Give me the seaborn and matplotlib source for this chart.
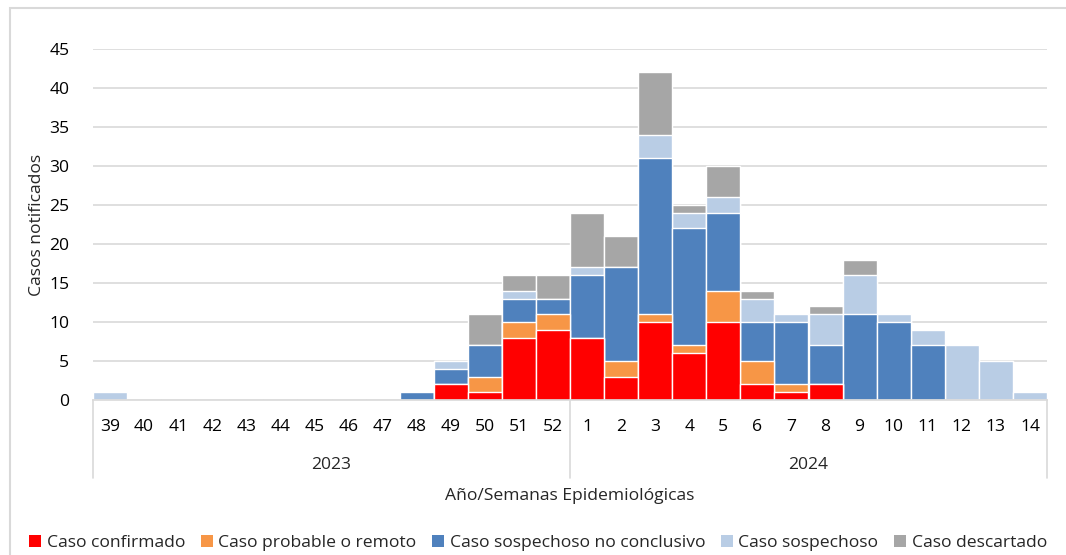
import matplotlib
matplotlib.use("Agg")
import matplotlib.pyplot as plt
from matplotlib.patches import Rectangle, Patch
import seaborn as sns
import numpy as np
import pandas as pd

weeks = ["39", "40", "41", "42", "43", "44", "45", "46", "47", "48", "49", "50", "51", "52",
         "1", "2", "3", "4", "5", "6", "7", "8", "9", "10", "11", "12", "13", "14"]
years = ["2023", "2024"]
confirmado = [0, 0, 0, 0, 0, 0, 0, 0, 0, 0, 2, 1, 8, 9,
              8, 3, 10, 6, 10, 2, 1, 2, 0, 0, 0, 0, 0, 0]
probable = [0, 0, 0, 0, 0, 0, 0, 0, 0, 0, 0, 2, 2, 2,
            0, 2, 1, 1, 4, 3, 1, 0, 0, 0, 0, 0, 0, 0]
sosp_no_concl = [0, 0, 0, 0, 0, 0, 0, 0, 0, 1, 2, 4, 3, 2,
                 8, 12, 20, 15, 10, 5, 8, 5, 11, 10, 7, 0, 0, 0]
sospechoso = [1, 0, 0, 0, 0, 0, 0, 0, 0, 0, 1, 0, 1, 0,
              1, 0, 3, 2, 2, 3, 1, 4, 5, 1, 2, 7, 5, 1]
descartado = [0, 0, 0, 0, 0, 0, 0, 0, 0, 0, 0, 4, 2, 3,
              7, 4, 8, 1, 4, 1, 0, 1, 2, 0, 0, 0, 0, 0]
series_names = ["Caso confirmado", "Caso probable o remoto", "Caso sospechoso no conclusivo",
                "Caso sospechoso", "Caso descartado"]
colors = ["#FF0000", "#F79646", "#4F81BD", "#B9CDE5", "#A6A6A6"]

sns.set_style("white")
plt.rcParams["font.family"] = ["Open Sans", "DejaVu Sans"]
FS = 12.6

W, H = 1066, 555
fig = plt.figure(figsize=(W / 100, H / 100), dpi=100)
ax = fig.add_axes([93 / W, 1 - 400 / H, (1047 - 93) / W, (400 - 49) / H])

df = pd.DataFrame({"week": weeks})
layers = [confirmado, probable, sosp_no_concl, sospechoso, descartado]
cum = np.cumsum(np.array(layers), axis=0)
for i in range(len(layers) - 1, -1, -1):
    df["v"] = cum[i]
    sns.barplot(data=df, x="week", y="v", order=weeks, color=colors[i], saturation=1,
                width=1.0, edgecolor="white", linewidth=1.0, ax=ax, errorbar=None)

ax.set_ylim(0, 45)
ax.set_xlim(-0.5, len(weeks) - 0.5)
ax.set_yticks(range(0, 46, 5))
ax.grid(axis="y", color="#D9D9D9", linewidth=1.2)
ax.set_axisbelow(True)
for s in ["top", "right", "left"]:
    ax.spines[s].set_visible(False)
ax.spines["bottom"].set_color("#D9D9D9")
ax.spines["bottom"].set_linewidth(1.2)
ax.tick_params(axis="both", length=0, labelsize=FS, colors="#000000")
ax.tick_params(axis="y", pad=17)
ax.tick_params(axis="x", pad=14)
ax.set_xlabel("")
ax.set_ylabel("Casos notificados", fontsize=FS, labelpad=3)

# multi-level axis separators
tr = ax.get_xaxis_transform()
depth = -(478 - 400) / (400 - 49)
n23 = 14
for xv in [-0.5, n23 - 0.5, len(weeks) - 0.5]:
    ax.plot([xv, xv], [0, depth], transform=tr, color="#D9D9D9", lw=1.2, clip_on=False)
ydepth_year = -(465 - 400) / (400 - 49)
ax.text((n23 - 1) / 2, ydepth_year, years[0], transform=tr, ha="center", va="center", fontsize=FS)
ax.text(n23 + (len(weeks) - n23 - 1) / 2, ydepth_year, years[1], transform=tr,
        ha="center", va="center", fontsize=FS)

fig.text(((93 + 1047) / 2) / W, 1 - 496 / H, "Año/Semanas Epidemiológicas",
         ha="center", va="center", fontsize=FS)

handles = [Patch(facecolor=c, edgecolor="none") for c in colors]
fig.legend(handles, series_names, loc="center", bbox_to_anchor=(538 / W, 1 - 543 / H),
           ncol=5, frameon=False, fontsize=FS, handlelength=0.7, handleheight=0.7,
           handletextpad=0.3, columnspacing=0.9)

fig.patches.append(Rectangle((10 / W, -0.05), 1.2, 1.05 - 8 / H, transform=fig.transFigure,
                             fill=False, edgecolor="#D9D9D9", linewidth=1.5))

fig.savefig("out.png", dpi=100)
